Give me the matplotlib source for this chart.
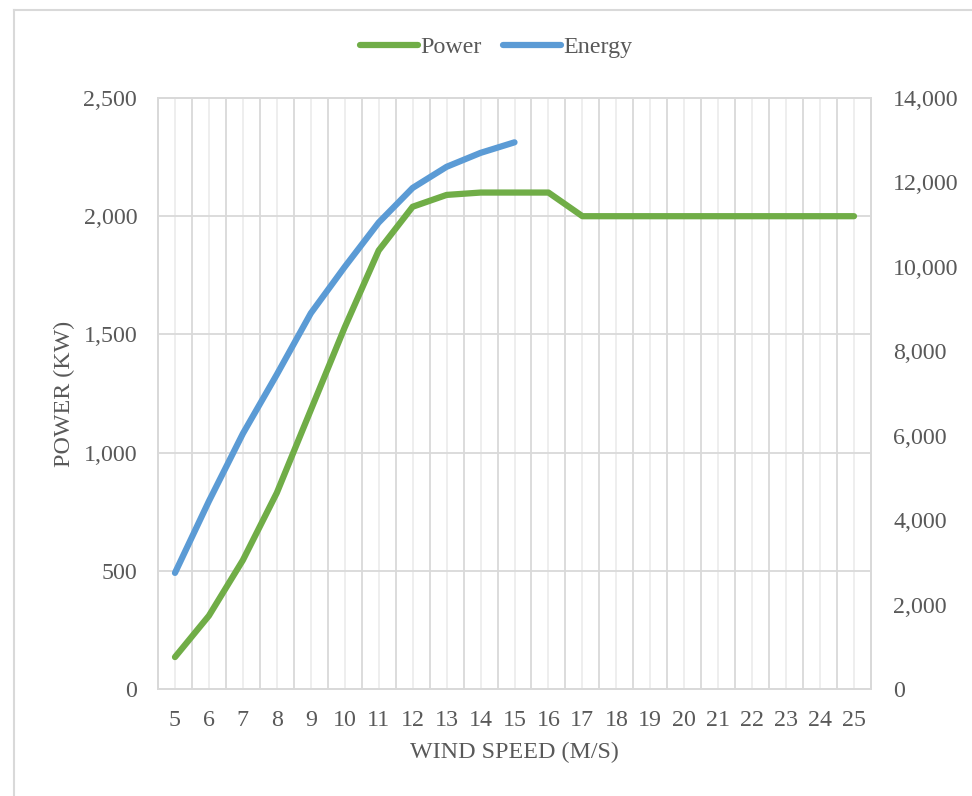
import numpy as np
import matplotlib.pyplot as plt
from matplotlib.lines import Line2D
from matplotlib.ticker import FuncFormatter, MultipleLocator

plt.rcParams['font.family'] = ['Liberation Serif', 'DejaVu Serif']

# wind speed categories and the two series
wind_speed = list(range(5, 26))
power = [135, 310, 545, 830, 1180, 1530, 1855, 2040, 2090, 2100, 2100,
         2100, 2000, 2000, 2000, 2000, 2000, 2000, 2000, 2000, 2000]
energy = [2750, 4450, 6050, 7450, 8900, 10000, 11050, 11870, 12370, 12700, 12950]

green = '#70AD47'
blue = '#5B9BD5'
txt = '#595959'
grid_major = '#D9D9D9'
grid_minor = '#EDEDED'

fig = plt.figure(figsize=(9.72, 7.96), dpi=100)
ax = fig.add_axes([158/972, 1-689/796, (871-158)/972, (689-98)/796])
ax2 = ax.twinx()

x = np.arange(len(wind_speed))
ax.plot(x, power, color=green, lw=4.5, solid_capstyle='round', solid_joinstyle='round', zorder=3)
ax2.plot(x[:len(energy)], energy, color=blue, lw=4.5, solid_capstyle='round', solid_joinstyle='round', zorder=3)

ax.set_xlim(-0.5, len(wind_speed) - 0.5)
ax.set_ylim(0, 2500)
ax2.set_ylim(0, 14000)
ax.yaxis.set_major_locator(MultipleLocator(500))
ax2.yaxis.set_major_locator(MultipleLocator(2000))
fmt = FuncFormatter(lambda v, p: f'{v:,.0f}')
ax.yaxis.set_major_formatter(fmt)
ax2.yaxis.set_major_formatter(fmt)

# category labels on centres, gridlines on boundaries (major) and centres (minor)
ax.set_xticks(x)
ax.set_xticklabels([str(w) for w in wind_speed])
for b in np.arange(-0.5, len(wind_speed), 1.0):
    ax.axvline(b, color=grid_major, lw=1.3, zorder=1)
for c in x:
    ax.axvline(c, color=grid_minor, lw=1.3, zorder=0.5)
ax.grid(axis='y', color=grid_major, lw=1.3, zorder=1)
ax.set_axisbelow(True)

for a in (ax, ax2):
    for s in a.spines.values():
        s.set_color(grid_major)
        s.set_linewidth(1.3)
    a.tick_params(length=0, labelsize=17.3, colors=txt)
ax.tick_params(axis='y', pad=15)
ax2.tick_params(axis='y', pad=16)
ax.tick_params(axis='x', pad=15)

ax.set_xlabel('WIND SPEED (M/S)', fontsize=17.3, color=txt, labelpad=8)
ax.set_ylabel('POWER (KW)', fontsize=17.3, color=txt, labelpad=6)

handles = [Line2D([], [], color=green, lw=4.5, solid_capstyle='round'),
           Line2D([], [], color=blue, lw=4.5, solid_capstyle='round')]
leg = fig.legend(handles, ['Power', 'Energy'], loc='center', bbox_to_anchor=(496/972, 1-47/796),
                 ncol=2, frameon=False, fontsize=17.3, handlelength=2.4, handletextpad=0.1,
                 columnspacing=0.9)
for t in leg.get_texts():
    t.set_color(txt)

# outer chart border
fig.add_artist(Line2D([14/972, 14/972], [0, 1-10/796], color=grid_major, lw=1.5, transform=fig.transFigure))
fig.add_artist(Line2D([14/972, 1], [1-10/796, 1-10/796], color=grid_major, lw=1.5, transform=fig.transFigure))

fig.savefig('out.png', dpi=100)
